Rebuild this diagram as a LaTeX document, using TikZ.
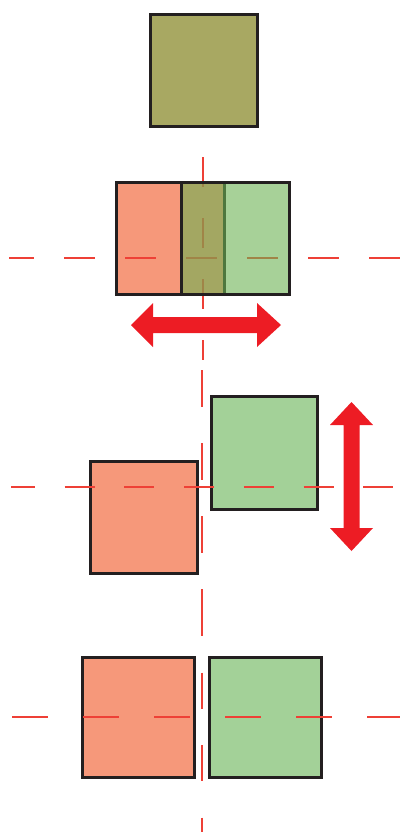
\documentclass[tikz,border=0pt]{standalone}
\usepackage{tikz}
\definecolor{salmon}{RGB}{246,152,122}
\definecolor{leaf}{RGB}{163,209,152}
\definecolor{leafbase}{RGB}{108,178,83}
\definecolor{olive}{RGB}{168,168,98}
\definecolor{guidered}{RGB}{238,64,54}
\definecolor{arrowred}{RGB}{237,28,36}
\definecolor{edge}{RGB}{35,31,32}

\begin{document}
\begin{tikzpicture}[x=0.5pt, y=-0.5pt,
        square/.style={draw=edge, line width=1.5pt},
        guide/.style={draw=guidered, line width=0.75pt}]
        \useasboundingbox (0,0) rectangle (400,832);

        % top: both squares on top of each other
        \draw[square, fill=olive] (150,14) rectangle (257,126);

        % second row: half overlap
        \draw[square, fill=salmon] (116,182) rectangle (224,294);
        \draw[guide, dash pattern=on 15.5pt off 15pt, dash phase=3pt] (9,258) -- (400,258);
        \draw[guide, dash pattern=on 15pt off 15.5pt] (203,157) -- (203,360);
        \draw[square, fill=leafbase, fill opacity=0.6] (181,182) rectangle (289,294);
        \fill[arrowred] (131,325) -- (153,303) -- (153,317) -- (257,317) -- (257,303)
            -- (281,325) -- (257,347) -- (257,333) -- (153,333) -- (153,347) -- cycle;

        % third row: shifted up and down
        \draw[square, fill=salmon] (90,461) rectangle (197,573);
        \draw[square, fill=leaf] (211,396) rectangle (317,509);
        \draw[guide, dash pattern=on 15pt off 14.85pt, dash phase=3pt] (11,487) -- (400,487);
        \draw[guide, dash pattern=on 18.5pt off 18pt] (202,370) -- (202,624);
        \fill[arrowred] (351.5,402) -- (373,425) -- (359.5,425) -- (359.5,528) -- (373,528)
            -- (351.5,551) -- (330,528) -- (343.5,528) -- (343.5,425) -- (330,425) -- cycle;

        % bottom: side by side
        \draw[square, fill=salmon] (82,657) rectangle (194,777);
        \draw[square, fill=leaf] (209,657) rectangle (321,777);
        \draw[guide, dash pattern=on 18pt off 17.5pt] (12,717) -- (400,717);
        \draw[guide, dash pattern=on 18pt off 18.25pt] (202,600) -- (202,832);
    \end{tikzpicture}
\end{document}
